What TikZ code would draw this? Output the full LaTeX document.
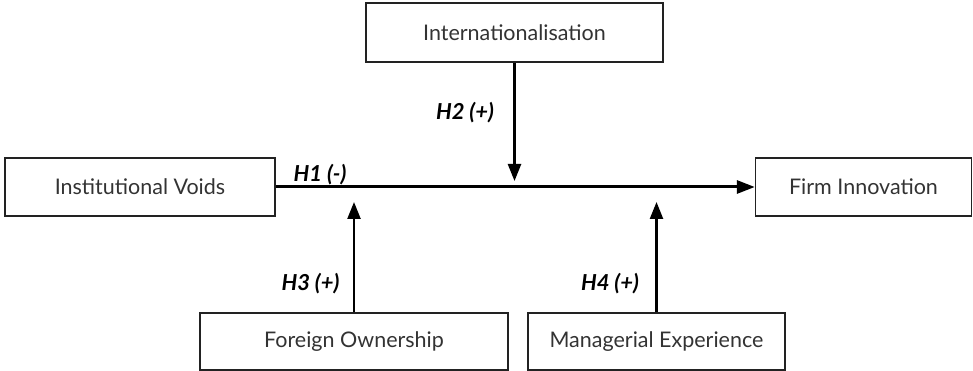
\documentclass[tikz,border=0pt]{standalone}
\usepackage{fontspec}
\setmainfont{Lato}
\usetikzlibrary{arrows.meta}
\definecolor{txt}{HTML}{333333}
\definecolor{edge}{HTML}{222222}
\begin{document}
\begin{tikzpicture}[x=1pt,y=-1pt,
  box/.style={draw=edge,line width=1.4pt,fill=white,inner sep=0pt,
    text=txt,font=\fontsize{21.5}{25}\selectfont},
  lbl/.style={font=\fontsize{22}{25}\selectfont\bfseries\itshape,text=black,inner sep=0pt},
  link/.style={line width=2.4pt,draw=black,-{Triangle[length=17pt,width=13pt]}},
  mainlink/.style={line width=3pt,draw=black,-{Triangle[length=18pt,width=13pt]}}]
\useasboundingbox (0,0) rectangle (973,371);
\node[box,minimum width=297pt,minimum height=59pt] (intl) at (514.5,32.5) {Internationalisation};
\node[box,minimum width=270pt,minimum height=58pt] (iv) at (140,187) {Institutional Voids};
\node[box,minimum width=216pt,minimum height=58pt] (fi) at (863.5,187) {Firm Innovation};
\node[box,minimum width=308pt,minimum height=57pt] (fo) at (354,341.5) {Foreign Ownership};
\node[box,minimum width=257pt,minimum height=57pt] (me) at (656.5,341.5) {Managerial Experience};
\coordinate (t2) at (514.5,181);
\coordinate (t3) at (354,202);
\coordinate (t4) at (656.5,202);
\draw[mainlink] (iv.east) -- (fi.west);
\draw[link] (intl.south) -- (t2);
\draw[link] (fo.north) -- (t3);
\draw[link] (me.north) -- (t4);
\node[lbl] (h1) at (320,175) {H1 (-)};
\node[lbl] (h2) at (465,113) {H2 (+)};
\node[lbl] (h3) at (310.5,284) {H3 (+)};
\node[lbl] (h4) at (610,284) {H4 (+)};
\end{tikzpicture}
\end{document}
